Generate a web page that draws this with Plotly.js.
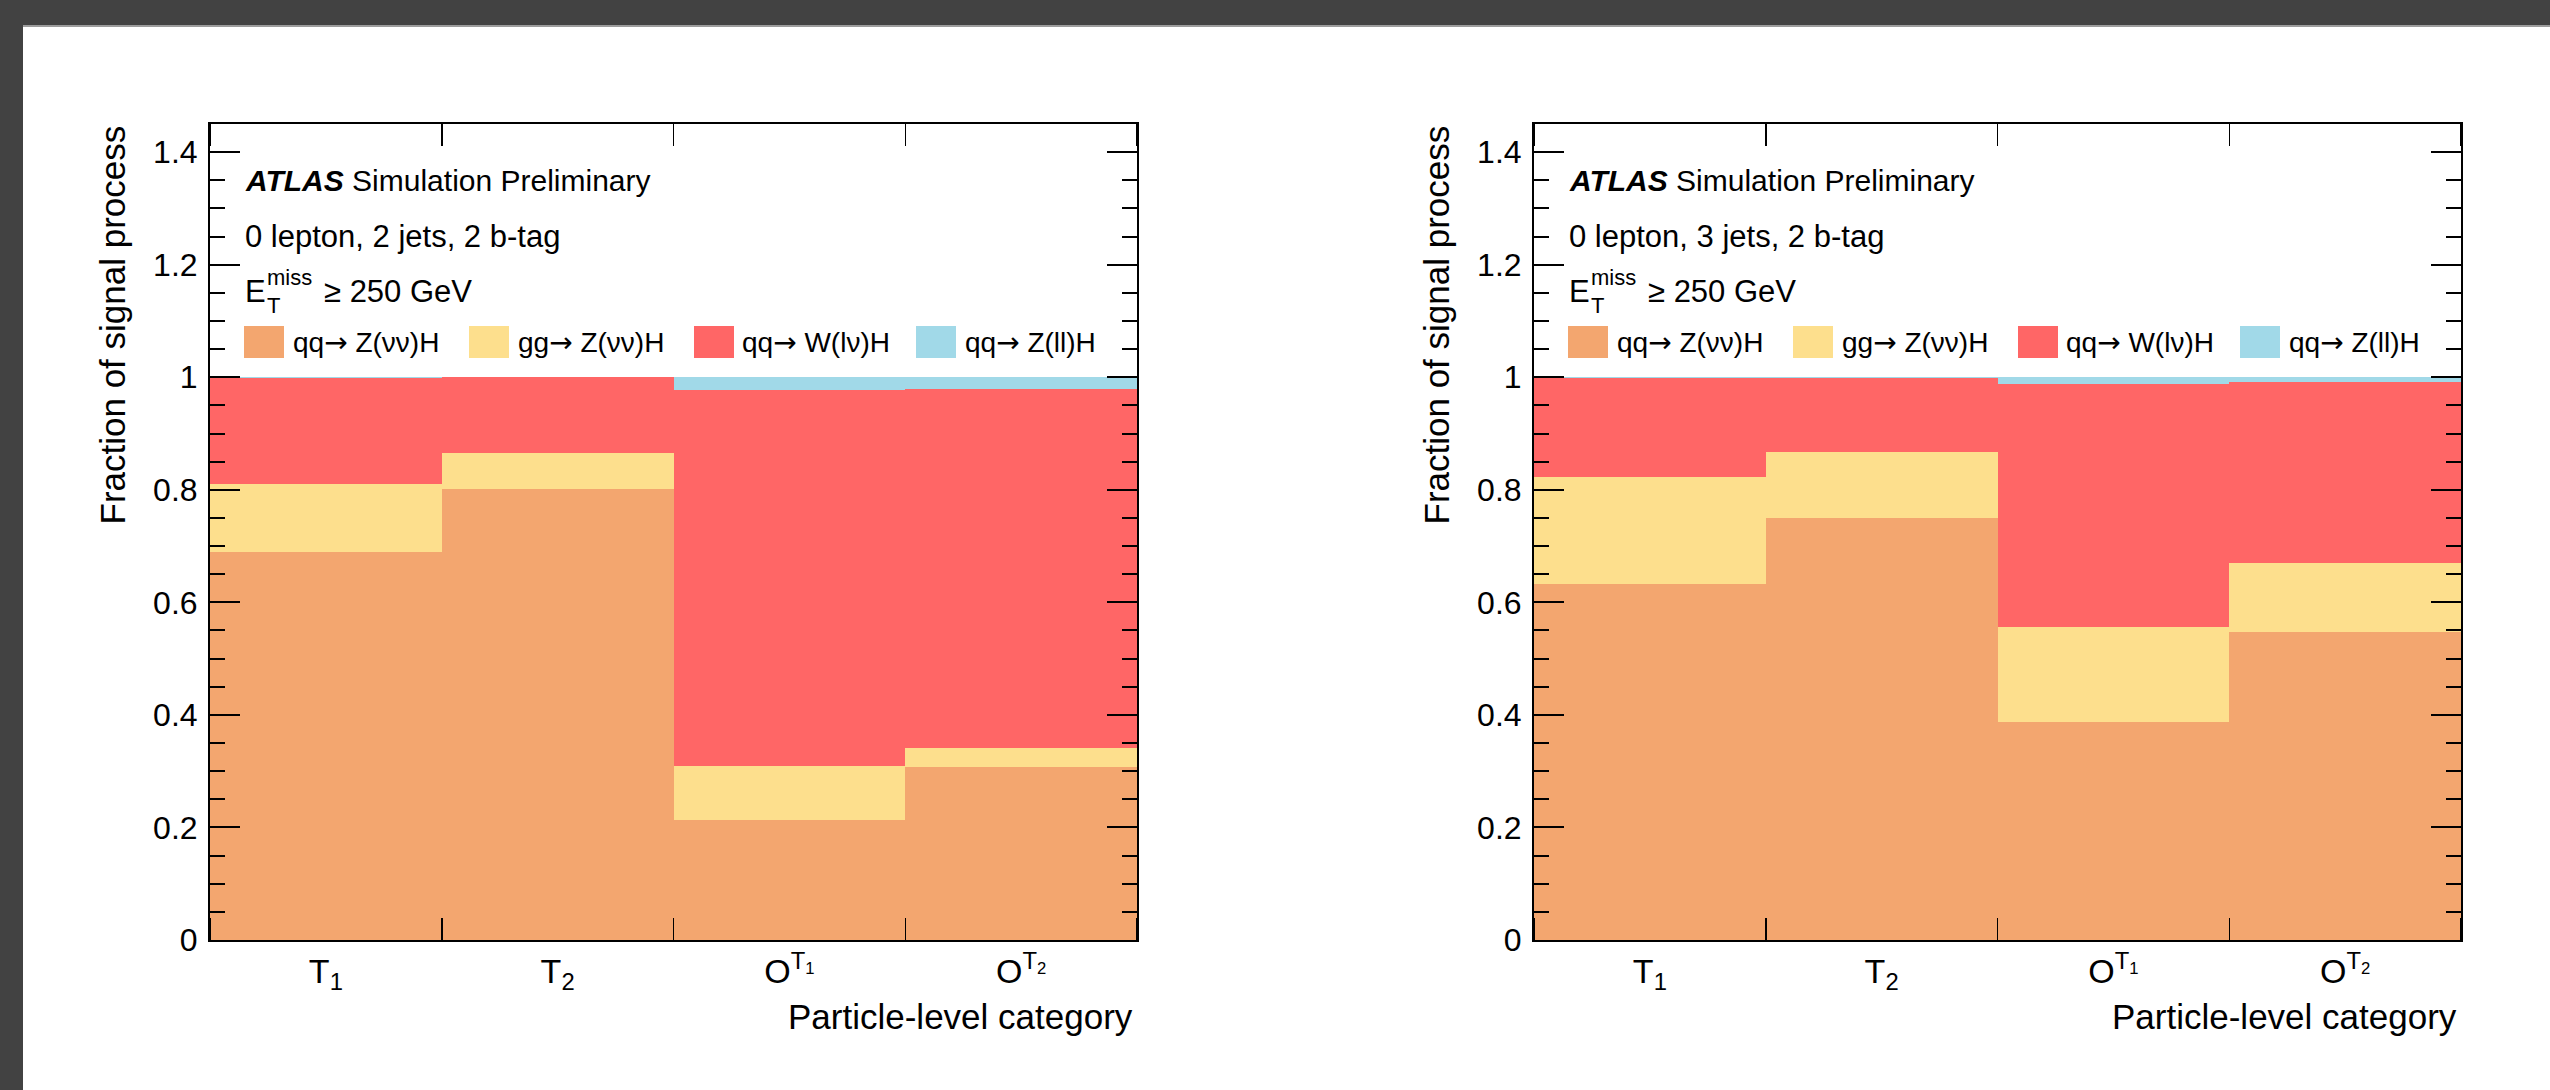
<!DOCTYPE html>
<html><head><meta charset="utf-8">
<script src="https://cdn.plot.ly/plotly-3.0.1.min.js"></script>
<style>html,body{margin:0;padding:0;background:#fff;overflow:hidden;} #chart{width:2550px;height:1090px;}</style>
</head><body><div id="chart"></div>
<script>
// ---- data ----
const binEdges = [0, 1, 2, 3, 4];
const tickLabels = ["T<sub>1</sub>", "T<sub>2</sub>", "O<sup>T<sub>1</sub></sup>", "O<sup>T<sub>2</sub></sup>"];
const processNames = ["qq→ Z(νν)H", "gg→ Z(νν)H", "qq→ W(lν)H", "qq→ Z(ll)H"];
const processColors = ["#F3A66F", "#FDDF8D", "#FF6666", "#A1D9E8"];
const regionLabels = ["0 lepton, 2 jets, 2 b-tag", "0 lepton, 3 jets, 2 b-tag"];

// 0 lepton, 2 jets
const jets2_qqZvvH = [0.690, 0.802, 0.213, 0.308];
const jets2_ggZvvH = [0.121, 0.063, 0.097, 0.034];
const jets2_qqWlvH = [0.187, 0.135, 0.668, 0.637];
const jets2_qqZllH = [0.002, 0.001, 0.022, 0.021];
// 0 lepton, 3 jets
const jets3_qqZvvH = [0.633, 0.750, 0.388, 0.548];
const jets3_ggZvvH = [0.190, 0.118, 0.169, 0.122];
const jets3_qqWlvH = [0.175, 0.131, 0.431, 0.321];
const jets3_qqZllH = [0.002, 0.001, 0.012, 0.009];

const yTickVals = [0, 0.2, 0.4, 0.6, 0.8, 1, 1.2, 1.4];

// ---- layout helpers ----
const W = 2550, H = 1090;
const fx = p => p / W;
const fy = p => 1 - p / H;
const FONT = "Liberation Sans, Arial, Helvetica, sans-serif";

const centres = binEdges.slice(0, -1).map((e, i) => (e + binEdges[i + 1]) / 2);
const widths = binEdges.slice(0, -1).map((e, i) => binEdges[i + 1] - e);

const panels = [
  {xl: 210, xr: 1137, top: 124, bottom: 940, series: [jets2_qqZvvH, jets2_ggZvvH, jets2_qqWlvH, jets2_qqZllH], region: regionLabels[0]},
  {xl: 1534, xr: 2461, top: 124, bottom: 940, series: [jets3_qqZvvH, jets3_ggZvvH, jets3_qqWlvH, jets3_qqZllH], region: regionLabels[1]}
];

const traces = [];
const layout = {
  width: W, height: H,
  margin: {l: 0, r: 0, t: 0, b: 0, pad: 0},
  paper_bgcolor: "#ffffff", plot_bgcolor: "#ffffff",
  barmode: "stack", bargap: 0,
  showlegend: false,
  font: {family: FONT, color: "#000"},
  shapes: [], annotations: []
};

// page frame
layout.shapes.push({type: "rect", xref: "paper", yref: "paper", x0: 0, x1: 1, y0: fy(25), y1: 1, fillcolor: "#424242", line: {width: 0}, layer: "below"});
layout.shapes.push({type: "rect", xref: "paper", yref: "paper", x0: 0, x1: 1, y0: fy(27), y1: fy(25), fillcolor: "#9c9c9c", line: {width: 0}, layer: "below"});
layout.shapes.push({type: "rect", xref: "paper", yref: "paper", x0: 0, x1: fx(23), y0: 0, y1: 1, fillcolor: "#424242", line: {width: 0}, layer: "below"});

function ann(text, xpx, ypx, size, xanchor, extra) {
  return Object.assign({text: text, xref: "paper", yref: "paper", x: fx(xpx), y: fy(ypx), xanchor: xanchor || "left", yanchor: "middle",
    showarrow: false, font: {family: FONT, size: size, color: "#000"}}, extra || {});
}
const arrowify = s => s.replace("→", '<span style="font-family:DejaVu Sans">→</span>');

const swatchX = [244, 469, 694, 916];
const labelX = [291, 516, 740, 963];

panels.forEach((p, k) => {
  const xa = k === 0 ? "x" : "x2", ya = k === 0 ? "y" : "y2";
  const xName = k === 0 ? "xaxis" : "xaxis2", yName = k === 0 ? "yaxis" : "yaxis2";
  p.series.forEach((vals, i) => {
    traces.push({type: "bar", x: centres, y: vals, width: widths, xaxis: xa, yaxis: ya, name: processNames[i],
      marker: {color: processColors[i], line: {width: 0}}, hoverinfo: "skip"});
  });
  layout[xName] = {
    domain: [fx(p.xl), fx(p.xr)], anchor: ya, range: [binEdges[0], binEdges[binEdges.length - 1]],
    tickmode: "array", tickvals: centres, ticktext: tickLabels, ticks: "", showgrid: false, zeroline: false,
    showline: true, linecolor: "#000", linewidth: 2, mirror: "allticks",
    minor: {tickmode: "array", tickvals: binEdges, ticks: "inside", ticklen: 22, tickwidth: 1.5, tickcolor: "#000", showgrid: false},
    tickfont: {family: FONT, size: 34, color: "#000"}, ticklabelstandoff: 0, fixedrange: true
  };
  layout[yName] = {
    domain: [fy(p.bottom), fy(p.top)], anchor: xa, range: [0, 1.45],
    tickmode: "array", tickvals: yTickVals, ticktext: yTickVals.map(v => String(v)),
    ticks: "inside", ticklen: 30, tickwidth: 2, tickcolor: "#000",
    minor: {dtick: 0.05, tick0: 0, ticks: "inside", ticklen: 15, tickwidth: 2, tickcolor: "#000", showgrid: false},
    showgrid: false, zeroline: false, showline: true, linecolor: "#000", linewidth: 2, mirror: "allticks",
    tickfont: {family: FONT, size: 32, color: "#000"}, ticklabelstandoff: 4, fixedrange: true
  };
  const dx = p.xl - 210;
  layout.annotations.push(ann("<b><i>ATLAS</i></b> Simulation Preliminary", 243 + dx, 181, 30));
  layout.annotations.push(ann(p.region, 243 + dx, 236.5, 31));
  layout.annotations.push(ann("E", 243 + dx, 291.5, 31));
  layout.annotations.push(ann("miss", 265 + dx, 277, 22));
  layout.annotations.push(ann("T", 265 + dx, 306, 22));
  layout.annotations.push(ann("≥ 250 GeV", 322 + dx, 291.5, 31));
  processNames.forEach((name, i) => {
    layout.shapes.push({type: "rect", xref: "paper", yref: "paper", x0: fx(swatchX[i] + dx), x1: fx(swatchX[i] + 40 + dx),
      y0: fy(358), y1: fy(326), fillcolor: processColors[i], line: {width: 0}});
    layout.annotations.push(ann(arrowify(name), labelX[i] + dx, 342, 28));
  });
  layout.annotations.push(ann("Fraction of signal process", 112 + dx, 124, 35, "center", {yanchor: "top", textangle: -90}));
  layout.annotations.push(ann("Particle-level category", 1135 + dx, 1016, 35, "right"));
});

Plotly.newPlot("chart", traces, layout, {staticPlot: true, displayModeBar: false});
</script>
</body></html>
